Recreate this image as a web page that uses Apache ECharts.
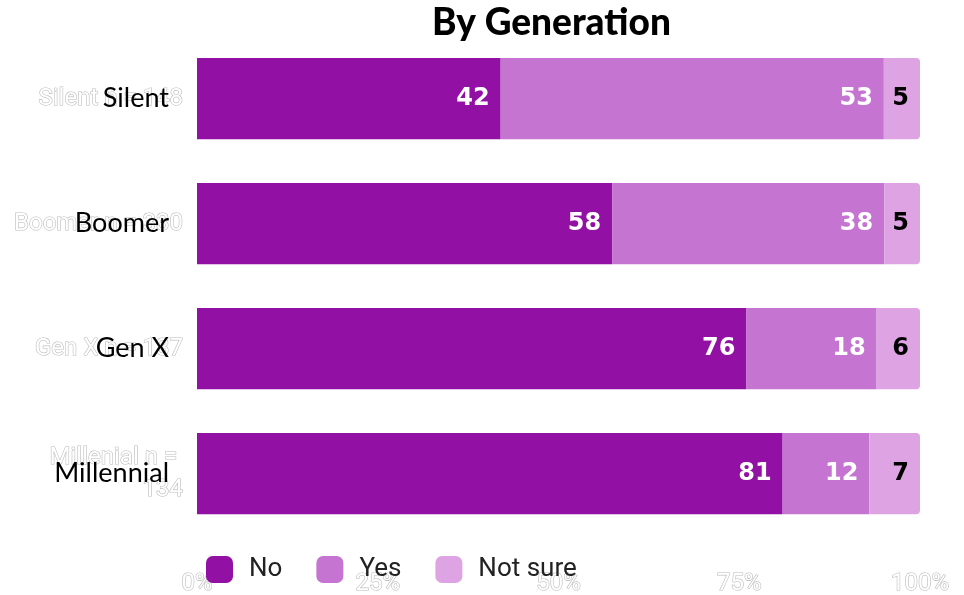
<!DOCTYPE html>
<html>
<head>
<meta charset="utf-8">
<script src="https://cdn.jsdelivr.net/npm/echarts@6/dist/echarts.min.js"></script>
<style>html,body{margin:0;padding:0;background:#fff}#c{width:964px;height:595px}</style>
</head>
<body>
<div id="c"></div>
<script>
const categories = ['Silent', 'Boomer', 'Gen X', 'Millennial'];
const ghostLabels = ['Silent n = 148', 'Boomer n = 330', 'Gen X n = 137', 'Millenial n = 134'];
const seriesNames = ['No', 'Yes', 'Not sure'];
const noValues = [42, 58, 76, 81];
const yesValues = [53, 38, 18, 12];
const notSureValues = [5, 5, 6, 7];
const xTicks = [0, 25, 50, 75, 100];

const colors = ['#9310A5', '#C674D1', '#DEA3E3'];
const raw = [noValues, yesValues, notSureValues];
const totals = categories.map((_, i) => raw.reduce((s, arr) => s + arr[i], 0));

const chart = echarts.init(document.getElementById('c'));
const series = raw.map((vals, si) => ({
  name: seriesNames[si],
  type: 'bar',
  stack: 'total',
  barWidth: '65%',
  yAxisIndex: 0,
  data: vals.map((v, i) => ({ value: v / totals[i] * 100, raw: v })),
  itemStyle: {
    color: colors[si],
    borderRadius: si === 2 ? [0, 4, 4, 0] : 0
  },
  label: {
    show: true,
    position: 'insideRight',
    distance: 11,
    fontFamily: 'DejaVu Sans',
    fontWeight: 'bold',
    fontSize: 24,
    color: si === 2 ? '#000' : '#fff',
    formatter: p => p.data.raw
  },
  emphasis: { disabled: true }
}));

chart.setOption({
  animation: false,
  title: {
    text: 'By Generation',
    left: 427,
    top: 0,
    textStyle: { fontFamily: 'Lato', fontWeight: 900, fontSize: 37, color: '#000' }
  },
  legend: {
    left: 201,
    top: 551,
    itemWidth: 27,
    itemHeight: 27,
    itemGap: 34,
    icon: 'roundRect',
    textStyle: { fontFamily: 'Roboto', fontSize: 26, color: '#222', padding: [0, 0, 0, 11] },
    data: seriesNames
  },
  grid: { left: 197, right: 44, top: 36, bottom: 59, outerBoundsMode: 'none', containLabel: false },
  xAxis: {
    type: 'value',
    min: 0,
    max: 100,
    interval: 25,
    splitLine: { show: false },
    axisLine: { show: false },
    axisTick: { show: false },
    axisLabel: {
      margin: 36,
      formatter: v => xTicks.includes(v) ? v + '%' : '',
      fontFamily: 'Roboto',
      fontSize: 24,
      color: '#fff',
      textBorderColor: '#bbb',
      textBorderWidth: 1.2
    }
  },
  yAxis: [
    {
      type: 'category',
      inverse: true,
      data: ghostLabels,
      position: 'left',
      axisLine: { show: false },
      axisTick: { show: false },
      axisLabel: {
        margin: 14,
        fontFamily: 'Roboto',
        fontSize: 24,
        lineHeight: 32,
        width: 170,
        overflow: 'break',
        color: '#fff',
        textBorderColor: '#bbb',
        textBorderWidth: 1.2
      }
    },
    {
      type: 'category',
      inverse: true,
      data: categories,
      position: 'left',
      axisLine: { show: false },
      axisTick: { show: false },
      axisLabel: {
        margin: 28,
        fontFamily: 'Lato',
        fontSize: 27,
        color: '#000'
      }
    }
  ],
  series: series
});
</script>
</body>
</html>
